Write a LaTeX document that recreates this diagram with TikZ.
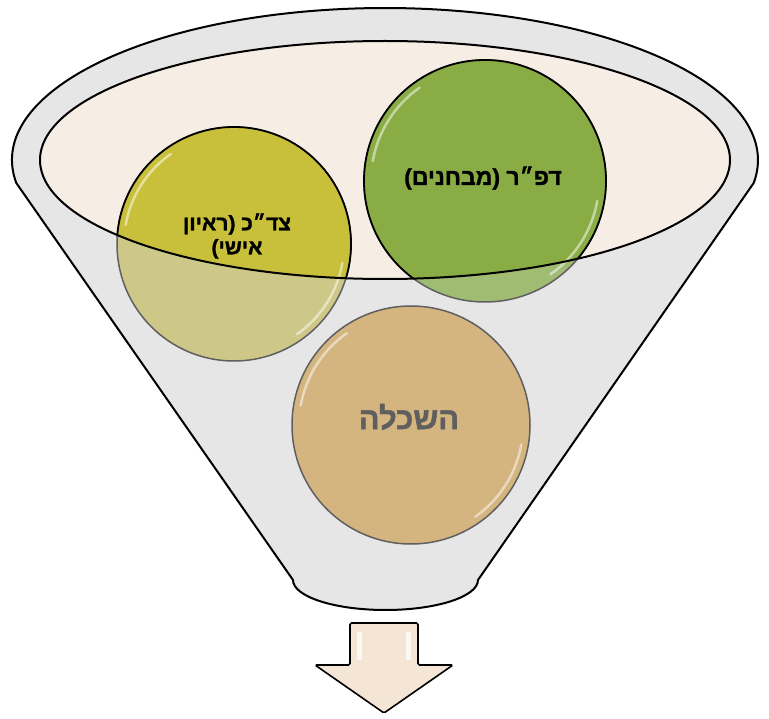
\documentclass[tikz,border=0pt]{standalone}
\usepackage{fontspec}
\setmainfont{Liberation Sans}
\newfontfamily\hebfont[Script=Hebrew,BoldFont={Liberation Sans Bold},BoldFeatures={FakeBold=1.3}]{Liberation Sans}
\TeXXeTstate=1
\definecolor{funnelgrey}{RGB}{230,230,230}
\definecolor{linen}{RGB}{246,237,228}
\definecolor{yelfull}{RGB}{200,192,58}
\definecolor{yelwash}{RGB}{205,200,135}
\definecolor{grnfull}{RGB}{138,172,68}
\definecolor{grnwash}{RGB}{160,188,115}
\definecolor{beige}{RGB}{212,180,127}
\definecolor{arrowfill}{RGB}{244,229,213}
\definecolor{rimgrey}{RGB}{95,95,95}
\definecolor{textgrey}{RGB}{95,95,95}
\tikzset{
  outline/.style={draw=black, line width=2},
  washrim/.style={draw=rimgrey, line width=1.5},
  fullrim/.style={draw=black, line width=1.8},
  glossarc/.style={draw=white, line width=2.5, opacity=0.5, line cap=round},
  ylbl/.style={font=\hebfont\bfseries\fontsize{21}{24}\selectfont, align=center, text=black, inner sep=0},
  glbl/.style={font=\hebfont\bfseries\fontsize{23}{26}\selectfont, align=center, text=black, inner sep=0},
  biglbl/.style={font=\hebfont\bfseries\fontsize{31}{34}\selectfont, text=textgrey, inner sep=0},
}
\begin{document}
\begin{tikzpicture}[x=1pt,y=1pt]
\useasboundingbox (0,0) rectangle (769,-719);
% key points
\coordinate (ic) at (385,-160);
\coordinate (cy) at (234,-244);
\coordinate (cg) at (485,-181);
\coordinate (cb) at (411,-425);
% funnel body
\path[outline, fill=funnelgrey]
  (16.3,-183) arc[start angle=188.7, end angle=-8.7, x radius=373, y radius=152]
  -- (478,-580) arc[start angle=0, end angle=-180, x radius=92.5, y radius=30]
  -- cycle;
% inner ellipse fill
\fill[linen] (ic) ellipse[x radius=345, y radius=119];
% washed circles (full)
\path[fill=yelwash, washrim] (cy) circle[radius=117];
\path[fill=grnwash, washrim] (cg) circle[radius=121];
\path[fill=beige, washrim] (cb) circle[radius=119];
% full colour parts inside the inner ellipse
\begin{scope}
  \clip (ic) ellipse[x radius=345, y radius=119];
  \path[fill=yelfull, fullrim] (cy) circle[radius=117];
  \path[fill=grnfull, fullrim] (cg) circle[radius=121];
\end{scope}
% gloss highlights
\foreach \c/\r in {cy/117, cg/121, cb/119}{
  \draw[glossarc] (\c) ++(125:\r-7) arc[start angle=125, end angle=170, radius=\r-7];
  \draw[glossarc] (\c) ++(-10:\r-7) arc[start angle=-10, end angle=-55, radius=\r-7];
}
% inner ellipse outline
\draw[outline] (ic) ellipse[x radius=345, y radius=119];
% labels
\node[ylbl] (ytext) at (237,-236) {\beginR צד״כ (ראיון\endR\\\beginR אישי)\endR};
\node[glbl] (gtext) at (483,-178) {\beginR דפ״ר (מבחנים)\endR};
\node[biglbl] (btext) at (409,-417) {\beginR השכלה\endR};
% arrow
\path[draw=black, line width=1.6, fill=arrowfill, rounded corners=1.5]
  (350,-623) -- (418,-623) -- (418,-665) -- (453,-665) -- (384,-713)
  -- (315,-665) -- (350,-665) -- cycle;
\fill[white, opacity=0.7] (357,-632) rectangle (362,-660);
\fill[white, opacity=0.7] (406,-632) rectangle (411,-660);
\end{tikzpicture}
\end{document}
